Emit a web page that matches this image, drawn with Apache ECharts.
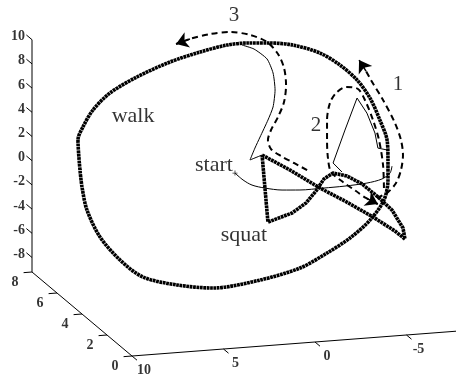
<!DOCTYPE html>
<html>
<head>
<meta charset="utf-8">
<script src="https://cdn.jsdelivr.net/npm/echarts@6/dist/echarts.min.js"></script>
<style>
html, body { margin: 0; padding: 0; background: #fff; }
#chart { width: 456px; height: 375px; }
</style>
</head>
<body>
<div id="chart"></div>
<script>
// ---- axis extents and ticks ----
const xRange = [10, -8];
const yRange = [0, 8];
const zRange = [-9.2, 10];
const xTicks = [10, 5, 0, -5];
const yTicks = [0, 2, 4, 6, 8];
const zTicks = [10, 8, 6, 4, 2, 0, -2, -4, -6, -8];

// ---- trajectories, [x, z] pairs on the plane y = planeY ----
const planeY = 4;
const walk = [
  [10.11, 2.71], [10.22, 5.21], [9.95, 6.25], [9.40, 7.59], [8.47, 8.89], [7.00, 10.04],
  [5.19, 11.07], [3.55, 11.70], [2.08, 12.11], [0.98, 12.15], [-0.27, 12.01], [-1.53, 11.69],
  [-3.01, 10.86], [-4.10, 9.74], [-5.03, 8.40], [-5.74, 6.82], [-6.28, 4.94], [-6.67, 3.25],
  [-6.72, 1.59], [-6.72, -0.06], [-6.50, -1.69], [-5.74, -3.26], [-4.64, -4.62], [-3.39, -5.71],
  [-1.91, -6.78], [0.27, -7.52], [2.84, -7.88], [4.81, -7.40], [6.67, -6.53], [7.92, -4.98],
  [9.02, -2.94], [9.73, -0.63], [10.00, 1.30], [10.11, 2.71]
];
const squat = [
  [0.16, 2.80], [-1.37, 1.38], [-3.01, -0.30], [-4.37, -1.53], [-5.90, -3.02], [-7.10, -4.32],
  [-7.65, -5.05], [-7.54, -4.12], [-6.94, -2.57], [-6.12, -1.32], [-5.30, -0.22], [-4.48, 0.53],
  [-3.72, 0.86], [-3.22, 0.43], [-2.79, -0.51], [-2.24, -1.44], [-1.48, -2.18], [-0.16, -2.78],
  [0.16, 2.80]
];
const transition1 = [
  [-6.12, -1.48], [-6.72, -1.06], [-7.16, -0.36], [-7.43, 0.68], [-7.54, 1.91], [-7.43, 3.16],
  [-7.10, 4.61], [-6.45, 6.58], [-5.79, 8.31], [-5.52, 9.08], [-5.14, 10.03]
];
const transition2 = [
  [-6.50, -0.70], [-6.45, 1.21], [-6.23, 3.30], [-5.90, 4.99], [-5.46, 6.70], [-5.08, 7.65],
  [-4.43, 7.89], [-3.88, 7.46], [-3.55, 6.67], [-3.39, 5.28], [-3.39, 3.63], [-3.44, 2.13],
  [-3.61, 0.96], [-4.26, 0.06], [-4.97, -0.77], [-5.52, -1.41], [-6.17, -1.99]
];
const transition3 = [
  [-2.30, 1.27], [-1.58, 1.94], [-0.87, 2.60], [-0.33, 3.24], [-0.16, 4.00], [-0.33, 4.81],
  [-0.71, 5.84], [-1.04, 7.04], [-1.15, 8.44], [-1.04, 9.85], [-0.71, 11.05], [-0.11, 12.11],
  [0.82, 12.80], [1.91, 13.17], [3.01, 13.13], [4.10, 12.85], [4.86, 12.52]
];
const startPath = [
  [1.64, 1.48], [1.20, 0.86], [0.71, 0.38], [0.00, 0.05], [-0.93, -0.22], [-1.91, -0.33],
  [-3.17, -0.32], [-4.37, -0.29], [-5.57, -0.18], [-6.39, 0.06], [-6.83, 0.50], [-6.94, 1.06]
];
const walkToSquat = [
  [-6.67, 2.43], [-6.17, 2.64], [-6.01, 3.90], [-5.57, 5.60], [-5.03, 6.91], [-4.37, 4.34],
  [-3.72, 1.69], [-4.21, 0.89]
];
const squatToWalk = [
  [0.16, 2.80], [0.82, 2.47], [0.55, 3.42], [0.27, 4.30], [-0.16, 5.65], [-0.44, 6.70],
  [-0.55, 8.09], [-0.44, 9.51], [-0.11, 10.71], [0.60, 11.61], [1.26, 12.02]
];

// ---- text annotations ----
const annoText = ['walk', 'start', 'squat', '1', '2', '3'];
const annoAt = [[7.21, 6.84], [2.79, 2.28], [1.15, -3.70], [-7.27, 7.73], [-2.79, 4.94], [1.69, 14.47]];

// ---- view transform: 3-D data space -> flat drawing plane ----
function P(x, y, z) {
  return [132 - (x - 10) * 18.3 - y * 12.5,
          356 + (x - 10) * 1.4 - y * 10.5 - (z - zRange[0]) * 12.1];
}
const onPlane = pts => pts.map(p => P(p[0], planeY, p[1]));

const serif = '"Liberation Serif", "Times New Roman", serif';
const series = [];

function path(pts, style, smooth, z) {
  series.push({
    type: 'line', data: pts, symbol: 'none', smooth: smooth || false,
    lineStyle: Object.assign({ color: '#000', width: 1 }, style),
    silent: true, z: z || 2, clip: true
  });
}
function segments(list, style) {
  series.push({
    type: 'lines', coordinateSystem: 'cartesian2d', polyline: false,
    data: list.map(c => ({ coords: c })), symbol: 'none',
    lineStyle: Object.assign({ color: '#000', width: 1, opacity: 1 }, style),
    silent: true, z: 1
  });
}
function arrowHead(pts) {
  const n = pts.length;
  series.push({
    type: 'lines', coordinateSystem: 'cartesian2d',
    data: [{ coords: [onPlane([pts[n - 2]])[0], onPlane([pts[n - 1]])[0]] }],
    symbol: ['none', 'arrow'], symbolSize: 12,
    lineStyle: { color: '#000', width: 1.5, opacity: 1 },
    silent: true, z: 5
  });
}
function texts(points, labels, label) {
  series.push({
    type: 'scatter', symbolSize: 0, silent: true, z: 6,
    data: points.map((p, i) => ({ value: p, name: labels[i] })),
    label: Object.assign({ show: true, formatter: '{b}', color: '#000', fontFamily: serif }, label)
  });
}

// axes lines
path([P(xRange[0], 0, zRange[0]), P(xRange[1], 0, zRange[0])], { width: 1 }, false, 1);
path([P(10, yRange[0], zRange[0]), P(10, yRange[1], zRange[0])], { width: 1 }, false, 1);
path([P(10, 8, zRange[0]), P(10, 8, zRange[1])], { width: 1 }, false, 1);

// tick marks
segments(zTicks.map(z => [P(10, 8, z), P(10, 8.45, z)]));
segments(yTicks.map(y => [P(10, y, zRange[0]), P(10.46, y, zRange[0])]));
segments(xTicks.map(x => [P(x, 0, zRange[0]), P(x, -0.4, zRange[0])]));

// tick labels
const tickFont = { fontSize: 14, fontWeight: 'bold' };
texts(zTicks.map(z => P(10, 8, z)), zTicks.map(String),
  Object.assign({ position: 'left', distance: 7, offset: [0, -3] }, tickFont));
texts(yTicks.map(y => P(10, y, zRange[0])), yTicks.map(String),
  Object.assign({ position: 'inside', offset: [-17, 10] }, tickFont));
texts(xTicks.map(x => P(x, 0, zRange[0])), xTicks.map(String),
  Object.assign({ position: 'inside', offset: [12, 14] }, tickFont));

// thin connecting paths
path(onPlane(startPath), { width: 1 }, 0.3, 2);
path(onPlane(walkToSquat), { width: 1 }, false, 2);
path(onPlane(squatToWalk), { width: 1 }, 0.2, 2);

// main cycles
const beaded = { width: 3.6, type: [2.8, 0.6], cap: 'butt', join: 'round' };
path(onPlane(walk), beaded, 0.3, 3);
path(onPlane(squat), beaded, false, 3);

// transitions (dashed) with direction arrows
const dashed = { width: 2, type: [6, 4] };
[transition1, transition2, transition3].forEach(t => {
  path(onPlane(t), dashed, 0.3, 4);
  arrowHead(t);
});

// start marker
series.push({
  type: 'scatter', silent: true, z: 6,
  data: [P(startPath[0][0], planeY, startPath[0][1])],
  symbol: 'path://M-0.5,-3H0.5V-0.5H3V0.5H0.5V3H-0.5V0.5H-3V-0.5H-0.5Z',
  symbolSize: 5, itemStyle: { color: '#000' }
});

// annotations
texts(annoAt.slice(0, 3).map(p => P(p[0], planeY, p[1])), annoText.slice(0, 3),
  { position: 'inside', fontSize: 22 });
texts(annoAt.slice(3).map(p => P(p[0], planeY, p[1])), annoText.slice(3),
  { position: 'inside', fontSize: 21 });

const chart = echarts.init(document.getElementById('chart'), null, { renderer: 'canvas' });
chart.setOption({
  animation: false,
  backgroundColor: '#fff',
  grid: { left: 0, right: 0, top: 0, bottom: 0 },
  xAxis: { type: 'value', min: 0, max: 456, show: false },
  yAxis: { type: 'value', min: 0, max: 375, inverse: true, show: false },
  series: series
});
</script>
</body>
</html>
